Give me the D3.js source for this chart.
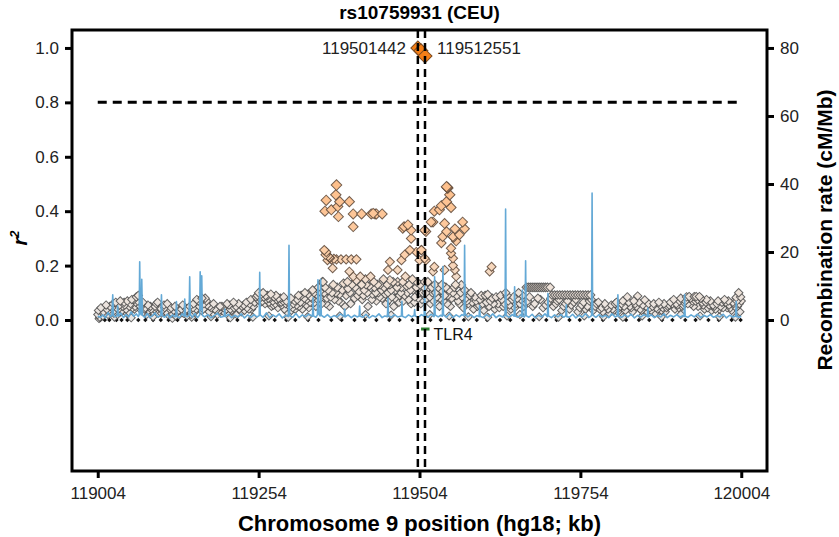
<!DOCTYPE html>
<html>
<head>
<meta charset="utf-8">
<script src="https://cdn.jsdelivr.net/npm/d3@7"></script>
<style>
  body { margin: 0; background: #fff; }
  svg { font-family: Arial, "Liberation Sans", sans-serif; }
</style>
</head>
<body>
<svg id="chart" width="839" height="537"></svg>
<script>
'use strict'
// ---- data ----
var title = 'rs10759931 (CEU)'
var xTicks = [119004, 119254, 119504, 119754, 120004]
var r2Ticks = [0, 0.2, 0.4, 0.6, 0.8, 1.0]
var rateTicks = [0, 20, 40, 60, 80]
var threshold = 0.8

// top SNPs [kb, r2, label]
var topSnps = [
  [119501.442, 1.0, '119501442'],
  [119506.2, 0.99, ''],
  [119512.551, 0.97, '119512551']
]
// gene track [start kb, end kb, name]
var genes = [[119506.4, 119519.6, 'TLR4']]

// SNPs with LD info [kb, r2]
var snps = [
  [119004,0.02],[119007,0.01],[119010,0.03],[119012,0.015],[119015,0.025],[119018,0.04],[119020,0.02],[119023,0.05],
  [119025,0.03],[119028,0.06],[119030,0.035],[119033,0.045],[119035,0.02],[119038,0.055],[119040,0.03],[119043,0.05],
  [119045,0.065],[119048,0.04],[119050,0.07],[119052,0.03],[119055,0.06],[119058,0.045],[119060,0.075],[119062,0.05],
  [119064,0.085],[119066,0.07],[119068,0.055],[119070,0.04],[119072,0.06],[119075,0.03],[119078,0.045],[119080,0.02],
  [119083,0.035],[119086,0.05],[119089,0.03],[119092,0.04],[119095,0.06],[119098,0.025],[119101,0.045],[119104,0.035],
  [119107,0.055],[119110,0.03],[119113,0.02],[119116,0.04],[119119,0.025],[119122,0.035],[119125,0.015],[119128,0.03],
  [119131,0.02],[119134,0.04],[119137,0.025],[119140,0.03],[119143,0.015],[119146,0.035],[119149,0.02],[119152,0.045],
  [119155,0.03],[119158,0.075],[119160,0.07],[119162,0.05],[119165,0.035],[119168,0.04],[119171,0.08],[119174,0.055],
  [119177,0.03],[119180,0.045],[119183,0.025],[119186,0.04],[119190,0.02],[119193,0.035],[119197,0.05],[119200,0.03],
  [119204,0.04],[119208,0.055],[119212,0.035],[119216,0.045],[119220,0.02],[119224,0.04],[119228,0.05],[119232,0.035],
  [119236,0.045],[119240,0.06],[119243,0.04],[119246,0.05],
  [119252,0.09],[119254,0.1],[119256,0.08],[119258,0.095],[119260,0.07],[119262,0.085],[119264,0.06],[119266,0.075],
  [119268,0.09],[119270,0.065],[119272,0.08],[119274,0.05],[119276,0.07],[119278,0.085],[119280,0.06],[119282,0.075],
  [119284,0.045],[119286,0.065],[119288,0.08],[119290,0.055],[119292,0.07],[119294,0.04],[119296,0.06],[119298,0.03],
  [119302,0.05],[119305,0.035],[119308,0.06],[119311,0.04],[119314,0.075],[119317,0.05],[119320,0.09],[119323,0.065],
  [119326,0.1],[119329,0.075],[119332,0.045],[119335,0.085],[119338,0.11],[119341,0.065],[119344,0.095],[119347,0.12],
  [119350,0.08],[119353,0.14],[119356,0.1],[119359,0.06],
  [119354,0.14],[119362,0.11],[119366,0.085],[119370,0.13],[119374,0.1],[119378,0.07],[119382,0.065],[119386,0.135],
  [119390,0.09],[119393,0.115],[119397,0.06],[119401,0.16],[119404,0.12],[119408,0.09],[119412,0.16],[119415,0.075],
  [119418,0.11],[119421,0.13],[119424,0.05],[119428,0.16],[119431,0.095],[119434,0.12],[119437,0.07],[119440,0.1],
  [119443,0.13],
  [119446,0.08],[119449,0.12],[119452,0.06],[119455,0.1],[119458,0.13],[119461,0.085],[119464,0.05],[119467,0.11],
  [119470,0.14],[119473,0.09],[119476,0.12],[119479,0.07],[119482,0.16],[119485,0.1],[119488,0.13],[119491,0.06],
  [119494,0.11],[119497,0.085],[119500,0.14],[119503,0.1],[119506,0.06],
  [119509,0.1],[119512,0.14],[119515,0.08],[119518,0.12],[119521,0.06],[119524,0.1],[119528,0.13],[119531,0.085],
  [119535,0.05],[119538,0.11],[119541,0.07],[119545,0.12],[119548,0.09],[119552,0.05],[119556,0.1],[119560,0.13],
  [119564,0.07],[119568,0.1],[119572,0.045],[119576,0.08],[119580,0.06],[119584,0.1],[119588,0.04],[119592,0.07],
  [119596,0.055],[119600,0.09],[119604,0.035],[119608,0.065],[119610,0.094],[119612,0.05],[119617,0.08],[119621,0.04],
  [119626,0.06],[119630,0.09],[119634,0.05],[119638,0.1],[119642,0.07],[119646,0.04],[119650,0.085],[119654,0.06],
  [119658,0.1],[119662,0.075],[119666,0.05],[119670,0.12],[119673,0.12],[119676,0.12],[119679,0.12],[119682,0.12],
  [119685,0.12],[119688,0.12],[119691,0.12],[119694,0.12],[119697,0.12],[119700,0.12],[119703,0.12],[119707,0.12],
  [119672,0.07],[119680,0.05],[119688,0.08],[119696,0.045],[119704,0.065],
  [119710,0.092],[119714,0.092],[119718,0.092],[119722,0.092],[119726,0.092],[119730,0.092],[119734,0.092],[119738,0.092],
  [119742,0.092],[119746,0.092],[119750,0.092],[119754,0.092],[119758,0.092],[119762,0.092],[119766,0.092],[119770,0.092],
  [119712,0.05],[119718,0.07],[119725,0.035],[119731,0.06],[119737,0.04],[119744,0.065],[119750,0.03],[119756,0.055],
  [119762,0.04],[119768,0.07],[119774,0.035],[119779,0.06],[119784,0.04],[119789,0.03],[119794,0.05],[119799,0.025],
  [119804,0.04],[119808,0.06],[119812,0.03],[119816,0.05],[119820,0.07],[119824,0.035],[119827,0.085],[119831,0.05],
  [119835,0.03],[119839,0.06],[119843,0.088],[119847,0.04],[119851,0.055],[119854,0.074],[119858,0.03],[119862,0.045],
  [119866,0.05],[119870,0.025],[119874,0.04],[119878,0.055],[119882,0.045],[119886,0.03],[119890,0.05],[119894,0.065],
  [119897,0.06],[119901,0.04],[119905,0.055],[119908,0.07],[119912,0.05],[119915,0.065],[119919,0.085],[119923,0.086],
  [119926,0.06],[119928,0.07],[119931,0.086],[119934,0.086],[119937,0.05],[119939,0.086],[119943,0.065],[119947,0.04],
  [119950,0.075],[119954,0.055],[119958,0.035],[119962,0.05],[119966,0.06],[119970,0.04],[119974,0.065],[119978,0.075],
  [119982,0.045],[119985,0.055],[119989,0.035],[119992,0.06],[119996,0.083],[119998,0.05],[120000,0.1],[120002,0.03],
  [120004,0.07],
  [119006,0.005],[119030,0.01],[119056,0.008],[119090,0.012],[119120,0.006],[119150,0.01],[119180,0.012],[119210,0.008],
  [119245,0.01],[119270,0.015],[119300,0.01],[119330,0.012],[119380,0.015],[119420,0.02],[119460,0.018],[119520,0.02],
  [119550,0.015],[119580,0.012],[119610,0.01],[119640,0.015],[119660,0.02],[119690,0.012],[119720,0.01],[119760,0.015],
  [119790,0.012],[119820,0.01],[119850,0.015],[119880,0.012],[119910,0.02],[119940,0.015],[119970,0.012],[119995,0.01],
  // second pass over the low-LD cloud
  [119005,0.035],[119009,0.045],[119013,0.03],[119017,0.055],[119021,0.035],[119026,0.045],[119029,0.025],[119032,0.065],
  [119036,0.04],[119039,0.07],[119042,0.035],[119046,0.055],[119049,0.025],[119053,0.05],[119057,0.075],[119061,0.04],
  [119063,0.065],[119067,0.09],[119071,0.05],[119074,0.065],[119077,0.04],[119082,0.055],[119087,0.04],[119093,0.05],
  [119097,0.065],[119103,0.025],[119108,0.045],[119112,0.06],[119118,0.045],[119124,0.05],[119130,0.035],[119136,0.055],
  [119142,0.04],[119147,0.05],[119153,0.06],[119157,0.04],[119163,0.065],[119166,0.08],[119169,0.06],[119173,0.07],
  [119178,0.05],[119184,0.06],[119188,0.035],[119194,0.05],[119199,0.045],[119205,0.06],[119210,0.04],[119215,0.065],
  [119219,0.05],[119223,0.06],[119227,0.03],[119231,0.055],[119235,0.065],[119239,0.04],[119242,0.075],[119248,0.065],
  [119250,0.085],[119253,0.075],[119257,0.065],[119261,0.1],[119265,0.09],[119269,0.08],[119273,0.095],[119277,0.055],
  [119281,0.09],[119285,0.08],[119289,0.065],[119293,0.085],[119297,0.07],[119300,0.065],[119304,0.08],[119307,0.045],
  [119310,0.07],[119313,0.055],[119316,0.09],[119319,0.065],[119322,0.04],[119325,0.08],[119328,0.055],[119331,0.095],
  [119334,0.065],[119337,0.08],[119340,0.1],[119343,0.05],[119346,0.075],[119349,0.105],[119352,0.06],[119357,0.12],
  [119360,0.08],[119364,0.05],[119368,0.1],[119372,0.075],[119376,0.12],[119380,0.095],[119384,0.11],[119388,0.05],
  [119392,0.14],[119396,0.1],[119399,0.13],[119403,0.08],[119406,0.145],[119410,0.105],[119414,0.13],[119417,0.09],
  [119420,0.15],[119423,0.1],[119426,0.125],[119430,0.075],[119433,0.14],[119436,0.1],[119439,0.13],[119442,0.085],
  [119445,0.11],[119448,0.15],[119451,0.095],[119454,0.13],[119457,0.075],[119460,0.11],[119463,0.14],[119466,0.08],
  [119469,0.12],[119472,0.065],[119475,0.1],[119478,0.14],[119481,0.09],[119484,0.125],[119487,0.075],[119490,0.11],
  [119493,0.15],[119496,0.065],[119499,0.12],[119502,0.08],[119505,0.13],[119508,0.075],[119511,0.12],[119514,0.1],
  [119517,0.14],[119520,0.085],[119523,0.12],[119526,0.07],[119529,0.1],[119533,0.12],[119536,0.08],[119539,0.13],
  [119543,0.09],[119547,0.06],[119550,0.11],[119554,0.08],[119558,0.12],[119562,0.09],[119566,0.06],[119570,0.085],
  [119574,0.11],[119578,0.07],[119582,0.09],[119586,0.065],[119590,0.085],[119594,0.05],[119598,0.075],[119602,0.06],
  [119606,0.09],[119614,0.07],[119619,0.06],[119623,0.085],[119628,0.045],[119632,0.075],[119636,0.06],[119640,0.09],
  [119644,0.055],[119648,0.075],[119652,0.045],[119656,0.08],[119660,0.06],[119664,0.09],[119668,0.065],[119675,0.085],
  [119683,0.06],[119692,0.075],[119700,0.055],[119708,0.08],[119716,0.06],[119721,0.075],[119728,0.05],[119734,0.07],
  [119740,0.055],[119747,0.075],[119753,0.045],[119759,0.065],[119765,0.05],[119771,0.075],[119777,0.05],[119782,0.065],
  [119787,0.045],[119792,0.06],[119797,0.04],[119802,0.055],[119806,0.035],[119810,0.065],[119814,0.045],[119818,0.06],
  [119822,0.05],[119829,0.065],[119833,0.045],[119837,0.07],[119841,0.05],[119845,0.065],[119849,0.035],[119856,0.05],
  [119860,0.06],[119864,0.035],[119868,0.06],[119872,0.045],[119876,0.065],[119880,0.035],[119884,0.06],[119888,0.045],
  [119892,0.055],[119899,0.075],[119903,0.06],[119907,0.045],[119910,0.08],[119914,0.055],[119917,0.07],[119921,0.06],
  [119925,0.08],[119930,0.05],[119933,0.07],[119936,0.075],[119941,0.08],[119945,0.055],[119949,0.065],[119952,0.045],
  [119956,0.07],[119960,0.055],[119964,0.04],[119968,0.07],[119972,0.05],[119976,0.045],[119980,0.065],[119984,0.07],
  [119987,0.045],[119991,0.065],[119994,0.05],[119997,0.07],[120001,0.06],[120003,0.085],
  // moderate LD, left block
  [119356,0.257],[119358,0.24],[119359,0.25],[119361,0.22],[119362,0.235],[119364,0.23],[119365,0.228],[119367,0.223],
  [119369,0.19],[119371,0.225],[119375,0.223],[119382,0.223],[119390,0.223],[119398,0.223],[119406,0.223],[119395,0.178],
  [119375,0.496],[119374,0.46],[119359,0.44],[119395,0.435],[119380,0.435],[119377,0.417],[119357,0.40],[119367,0.405],
  [119378,0.38],[119401,0.39],[119414,0.39],[119429,0.39],[119432,0.392],[119435,0.39],[119437,0.39],[119446,0.39],
  [119401,0.343],
  // moderate LD, around the index SNP
  [119478,0.337],[119486,0.35],[119491,0.33],[119491,0.30],[119489,0.257],[119481,0.24],[119476,0.22],[119499,0.25],
  [119458,0.214],[119455,0.184],[119470,0.184],[119458,0.147],[119504,0.22],[119514,0.22],[119507,0.257],[119480,0.343],
  [119546,0.49],[119547,0.487],[119548,0.485],[119551,0.46],[119546,0.435],[119553,0.414],[119538,0.42],[119527,0.40],
  [119535,0.405],[119525,0.36],[119512,0.33],[119543,0.355],[119559,0.335],[119571,0.36],[119574,0.335],[119546,0.325],
  [119540,0.306],[119556,0.306],[119557,0.303],[119561,0.29],[119566,0.313],[119538,0.283],[119553,0.264],[119553,0.245],
  [119556,0.227],[119556,0.2],[119507,0.257],[119512,0.227],[119527,0.196],[119525,0.178],[119543,0.184],[119559,0.184],
  [119561,0.16],[119616,0.196],[119613,0.178],[119569,0.129],[119522,0.36],[119514,0.325]
]

// SNPs without LD data (drawn on the baseline)
var zeroSnps = [119008,119015,119022,119033,119041,119050,119067,119078,119090,119102,119114,119128,119141,119157,
  119171,119189,119207,119221,119239,119263,119279,119297,119311,119331,119347,119367,119383,119403,119419,119437,
  119457,119473,119493,119521,119537,119557,119573,119593,119609,119629,119645,119665,119681,119701,119717,119737,
  119753,119773,119789,119809,119825,119845,119861,119881,119897,119917,119933,119953,119969,119989,120003]

// recombination rate [kb, cM/Mb]
var recomb = [
  [119004,1.2],[119008,0.8],[119012,1.5],[119016,0.6],[119020,2.2],[119024,1.0],[119026,1.4],[119027.3,7.4],[119028.5,1.2],
  [119031,0.9],[119034.2,1.3],[119035,4.2],[119036,1.1],[119040,2.0],[119044,0.7],[119048,1.6],[119052,0.9],[119056,2.4],
  [119060,1.1],[119064,1.8],[119067,1.0],[119068.4,1.6],[119069.2,17.1],[119070.2,2],[119071.6,1.5],[119072.4,12],
  [119073.4,1.4],[119077,0.8],[119081,1.9],[119085,0.7],[119089,1.3],[119093,2.1],[119097,0.9],[119101,1.2],[119102.2,1.5],
  [119103,7.4],[119104,1.3],[119108,0.8],[119112,1.7],[119116,0.6],[119120,1.5],[119124,0.9],[119125.5,1.4],[119126.3,5.4],
  [119127.2,1.0],[119131,0.7],[119135,1.8],[119138.4,1.1],[119139.2,6.2],[119140.2,1.3],[119143,0.9],[119146,1.4],
  [119146.9,12.7],[119147.8,1.6],[119151,0.8],[119155,1.9],[119159,0.7],[119162.4,1.5],[119163.2,14.2],[119164.2,3],
  [119165.6,13],[119166.6,1.4],[119170,0.9],[119175,1.6],[119180,0.6],[119185,1.3],[119190,2.0],[119195,0.8],[119200.5,1.1],
  [119201.3,3.2],[119202.2,1.0],[119207,1.7],[119212,0.7],[119217,1.4],[119222,0.9],[119227,1.8],[119232,0.6],[119237,1.5],
  [119242,0.8],[119247,1.6],[119251,0.9],[119255,1.3],[119255.7,14],[119256.5,1.5],[119261,0.8],[119266,2.1],[119271,0.7],
  [119276,1.5],[119281,0.9],[119286,1.8],[119291,0.6],[119296,1.4],[119300.4,1.0],[119301.2,22],[119302,1.3],[119307,0.8],
  [119312,1.9],[119317,0.7],[119322,1.5],[119327,0.9],[119332,1.7],[119337.7,1.1],[119338.5,6.5],[119339.3,1.2],[119343,0.8],
  [119345.4,1.5],[119346.2,11.8],[119347.2,1.8],[119349.6,1.2],[119350.4,12],[119351.4,1.4],[119356,0.8],[119361,1.6],
  [119366,0.7],[119371,1.3],[119376,0.9],[119381,1.8],[119386.9,1.0],[119387.7,3.2],[119388.6,0.9],[119393,1.5],[119398,0.7],
  [119403,1.4],[119407,0.9],[119410.2,1.2],[119411,4.1],[119411.8,1.1],[119416,0.8],[119421,1.7],[119426,0.6],[119431,1.3],
  [119436,0.9],[119441,1.8],[119446,0.7],[119450,1.2],[119454.2,1.0],[119455,6.4],[119455.8,1.3],[119460,0.8],[119465,1.6],
  [119470,0.9],[119475.9,1.2],[119476.7,5.5],[119477.5,1.1],[119482,0.7],[119487,1.5],[119492,0.9],[119495.7,1.4],
  [119496.5,3.1],[119497.3,1.2],[119502,0.8],[119507,1.6],[119511.2,1.1],[119512,10],[119512.8,1.3],[119517,0.8],[119522,1.7],
  [119526.7,1.0],[119527.5,12.7],[119528.3,1.5],[119533,0.9],[119537,1.4],[119539.6,1.1],[119540.4,15.7],[119541.2,1.6],
  [119546,0.8],[119551,1.9],[119556,0.7],[119561,1.5],[119566,0.9],[119570,1.6],[119573.3,1.2],[119574.1,22],[119574.9,1.8],
  [119579,0.9],[119584,1.5],[119589,0.7],[119593,1.3],[119596.6,1.0],[119597.4,4.2],[119598.2,1.1],[119603,0.7],[119608,1.6],
  [119613,0.9],[119618,1.8],[119623,0.7],[119628,1.4],[119633,0.9],[119637,1.3],[119637.8,32.6],[119638.6,1.4],[119643,0.8],
  [119648,1.6],[119651,1.1],[119651.8,9.8],[119652.6,1.2],[119657,0.8],[119661,1.5],[119663,1.0],[119663.8,8.8],
  [119664.6,1.2],[119667,0.9],[119668.1,1.4],[119668.9,17.4],[119669.7,1.3],[119674,0.8],[119679,1.7],[119684,0.6],
  [119689,1.4],[119694,0.9],[119699,1.8],[119702.8,1.0],[119703.6,7.8],[119704.4,1.2],[119709,0.7],[119714,1.5],[119719,0.9],
  [119724,1.6],[119728,0.8],[119731.3,1.2],[119732.1,4.5],[119732.9,1.0],[119737,0.8],[119742,1.7],[119747,0.6],[119752,1.4],
  [119757,0.9],[119762,1.9],[119767,0.7],[119771.4,1.3],[119772.2,37.3],[119773,1.5],[119778,0.8],[119783,1.6],[119788,0.9],
  [119793,1.4],[119798,0.7],[119803,1.8],[119808,0.9],[119811.5,1.3],[119812.3,7.4],[119813.1,1.2],[119818,0.8],[119823,1.5],
  [119828,0.9],[119833,1.7],[119838,0.6],[119843,1.4],[119848,0.9],[119853,1.6],[119858.1,1.0],[119858.9,3.5],[119859.7,0.9],
  [119864,1.5],[119869,0.7],[119874,1.3],[119879,0.9],[119884,1.8],[119889,0.7],[119894,1.4],[119899,0.9],[119904,1.6],
  [119909,0.8],[119913,1.3],[119915.2,1.0],[119916,7.5],[119916.8,1.1],[119921,0.8],[119926,1.5],[119931,0.9],[119936,1.7],
  [119941,0.7],[119946,1.4],[119951,0.9],[119956,1.6],[119961,0.8],[119966,1.3],[119971,0.9],[119976,1.7],[119981,0.6],
  [119986,1.4],[119991,0.9],[119995.4,1.2],[119996.2,5.4],[119997,1.0],[120001,0.8],[120004,1.1]
]

// ---- layout ----
var svg = d3.select('#chart')
var box = {left: 72, top: 30, right: 767, bottom: 471}

var x = d3.scaleLinear().domain([118964, 120044]).range([box.left, box.right])
var y = d3.scaleLinear().domain([-0.555, 1.066]).range([box.bottom, box.top])
var yRate = d3.scaleLinear().domain([-0.555 * 80, 1.066 * 80]).range([box.bottom, box.top])

var fill = d3.scaleLinear()
  .domain([0, 0.12, 0.25, 0.5, 1])
  .range(['#e9e6e4', '#efe2d8', '#fdcfa8', '#fdbf8b', '#f57f17'])

var plot = svg.append('g')

function diamond (d, h) {
  return d3.symbol().type(d3.symbolSquare).size(2 * h * h)()
}

// baseline SNPs
plot.selectAll('.zero').data(zeroSnps).enter().append('path')
  .attr('d', d => diamond(d, 2.2))
  .attr('transform', d => `translate(${x(d)},${y(0)}) rotate(45)`)
  .attr('fill', '#111')

// LD SNPs, low r2 first so the peach ones sit on top
var sorted = snps.slice().sort((a, b) => a[1] - b[1])
plot.selectAll('.snp').data(sorted).enter().append('path')
  .attr('d', d => diamond(d, 4 + 2.6 * d[1]))
  .attr('transform', d => `translate(${x(d[0])},${y(d[1])}) rotate(45)`)
  .attr('fill', d => fill(d[1]))
  .attr('stroke', d => d[1] > 0.15 ? '#5a4536' : '#4a4a4a')
  .attr('stroke-opacity', 0.85)
  .attr('stroke-width', 1)

// recombination rate
var line = d3.line().x(d => x(d[0])).y(d => yRate(d[1]))
plot.append('path')
  .datum(recomb)
  .attr('d', line)
  .attr('fill', 'none')
  .attr('stroke', '#64a9d6')
  .attr('stroke-width', 1.6)
  .attr('stroke-linejoin', 'round')

// gene track
genes.forEach(g => {
  plot.append('line')
    .attr('x1', x(g[0])).attr('x2', x(g[1]))
    .attr('y1', y(0) + 9).attr('y2', y(0) + 9)
    .attr('stroke', '#2e7d32').attr('stroke-width', 3)
  plot.append('text')
    .attr('x', x(g[1]) + 4).attr('y', y(0) + 20)
    .attr('font-size', 16).attr('fill', '#111')
    .text(g[2])
})

// top SNPs
plot.selectAll('.top').data(topSnps).enter().append('path')
  .attr('d', d => diamond(d, 7))
  .attr('transform', d => `translate(${x(d[0])},${y(d[1])}) rotate(45)`)
  .attr('fill', '#f57f17')
  .attr('stroke', '#7a4a20')
  .attr('stroke-width', 1)

svg.append('text')
  .attr('x', x(topSnps[0][0]) - 12).attr('y', y(1) + 6)
  .attr('text-anchor', 'end').attr('font-size', 17).attr('fill', '#222')
  .text(topSnps[0][2])
svg.append('text')
  .attr('x', x(topSnps[2][0]) + 12).attr('y', y(1) + 6)
  .attr('font-size', 17).attr('fill', '#222')
  .text(topSnps[2][2])

// dashed guides
svg.append('line')
  .attr('x1', x(xTicks[0])).attr('x2', x(xTicks[xTicks.length - 1]))
  .attr('y1', y(threshold)).attr('y2', y(threshold))
  .attr('stroke', '#000').attr('stroke-width', 3).attr('stroke-dasharray', '9,6')
;[topSnps[0][0], topSnps[2][0]].forEach(k => {
  svg.append('line')
    .attr('x1', x(k)).attr('x2', x(k))
    .attr('y1', box.top).attr('y2', box.bottom)
    .attr('stroke', '#000').attr('stroke-width', 2.5).attr('stroke-dasharray', '8,5')
})

// axes
function styleAxis (g) {
  g.select('.domain').remove()
  g.selectAll('.tick line').attr('stroke', '#000').attr('stroke-width', 3)
  g.selectAll('.tick text').attr('font-size', 17).attr('fill', '#222')
    .attr('font-family', 'Arial, "Liberation Sans", sans-serif')
}
svg.append('g')
  .attr('transform', `translate(${box.left},0)`)
  .call(d3.axisLeft(y).tickValues(r2Ticks).tickFormat(d3.format('.1f')).tickSize(7).tickPadding(6))
  .call(styleAxis)
svg.append('g')
  .attr('transform', `translate(${box.right},0)`)
  .call(d3.axisRight(yRate).tickValues(rateTicks).tickSize(7).tickPadding(6))
  .call(styleAxis)
svg.append('g')
  .attr('transform', `translate(0,${box.bottom})`)
  .call(d3.axisBottom(x).tickValues(xTicks).tickFormat(d3.format('d')).tickSize(7).tickPadding(9))
  .call(styleAxis)

// frame
svg.append('rect')
  .attr('x', box.left).attr('y', box.top)
  .attr('width', box.right - box.left).attr('height', box.bottom - box.top)
  .attr('fill', 'none').attr('stroke', '#000').attr('stroke-width', 3)

// titles
svg.append('text')
  .attr('x', (box.left + box.right) / 2).attr('y', 19)
  .attr('text-anchor', 'middle').attr('font-size', 19).attr('font-weight', 'bold')
  .text(title)
svg.append('text')
  .attr('x', (box.left + box.right) / 2).attr('y', 531)
  .attr('text-anchor', 'middle').attr('font-size', 22).attr('font-weight', 'bold')
  .text('Chromosome 9 position (hg18; kb)')
var r2lab = svg.append('text')
  .attr('transform', 'translate(27,238) rotate(-90)')
  .attr('text-anchor', 'middle').attr('font-size', 20).attr('font-weight', 'bold')
  .attr('font-style', 'italic')
r2lab.append('tspan').text('r')
r2lab.append('tspan').attr('font-size', 13).attr('dy', -8).text('2')
svg.append('text')
  .attr('transform', 'translate(832,230) rotate(-90)')
  .attr('text-anchor', 'middle').attr('font-size', 21).attr('font-weight', 'bold')
  .text('Recombination rate (cM/Mb)')
</script>
</body>
</html>
